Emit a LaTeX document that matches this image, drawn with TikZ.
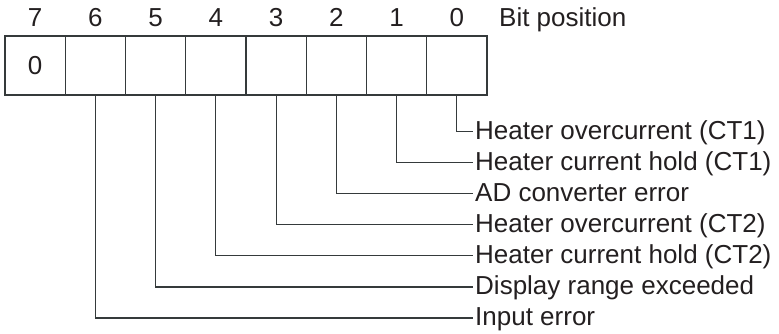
\documentclass[tikz,border=0pt]{standalone}
\usepackage{fontspec}
\setmainfont{Liberation Sans}
\definecolor{linec}{HTML}{353A3B}
\definecolor{txt}{HTML}{231F20}
\begin{document}
\begin{tikzpicture}[x=1pt,y=-1pt,
  cell/.style={draw=linec, line width=1pt, minimum width=60.25pt, minimum height=59pt, inner sep=0pt, outer sep=0pt},
  digit/.style={text=txt, font=\fontsize{26}{30}\selectfont, inner sep=0pt, anchor=base},
  lbl/.style={text=txt, font=\fontsize{26}{30}\selectfont, inner sep=0pt, anchor=base west},
  border/.style={draw=linec, line width=2.3pt},
  conn/.style={draw=linec, line width=1.2pt}]
\useasboundingbox (0,0) rectangle (779,334);
\foreach \b in {0,...,7}{
  \node[cell] (c\b) at ({5+60.25*(7-\b)+30.125},65.5) {};
  \node[digit] (n\b) at ({5+60.25*(7-\b)+30.125},26.5) {\b};
}
\node[digit, anchor=center] (zero) at (c7.center) {0};
\node[lbl] (bp) at (499,26.5) {Bit position};
\draw[border] (c7.north west) rectangle (c0.south east);
\draw[border, line width=2pt] (c3.north west) -- (c3.south west);
\foreach \b/\t in {0/{Heater overcurrent (CT1)},1/{Heater current hold (CT1)},2/{AD converter error},3/{Heater overcurrent (CT2)},4/{Heater current hold (CT2)},5/{Display range exceeded},6/{Input error}}{
  \coordinate (e\b) at (473,{131.5+31.08*\b});
  \node[lbl] (t\b) at (475,{131.5+31.08*\b+8}) {\t};
  \draw[conn] (c\b.south) |- (e\b);
}
\end{tikzpicture}
\end{document}
